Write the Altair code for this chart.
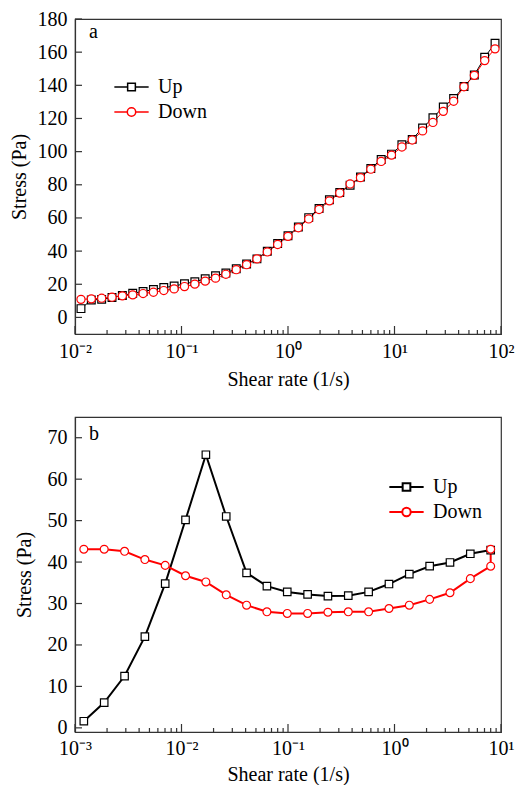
import altair as alt
import pandas as pd

# ---------------- Panel a ----------------
A_RATE = [0.01138, 0.01423, 0.01780, 0.02226, 0.02785, 0.03483, 0.04357, 0.05450, 0.06817, 0.08527,
          0.1067, 0.1334, 0.1669, 0.2088, 0.2611, 0.3266, 0.4086, 0.5110, 0.6392, 0.7995,
          1.0, 1.251, 1.565, 1.957, 2.448, 3.062, 3.830, 4.791, 5.993, 7.496,
          9.376, 11.73, 14.67, 18.35, 22.95, 28.71, 35.91, 44.92, 56.18, 70.27, 87.90]
A_UP = [5.3, 10.5, 10.9, 12.0, 13.2, 14.6, 15.6, 16.8, 18.0, 18.9,
        20.3, 21.5, 23.3, 25.1, 26.8, 29.4, 32.2, 35.3, 39.9, 44.6,
        49.3, 54.5, 60.2, 65.7, 71.0, 75.4, 79.7, 84.7, 89.8, 95.3,
        98.5, 104.2, 107.4, 114.3, 120.4, 126.9, 132.0, 139.3, 146.2, 156.9, 165.4]
A_DOWN = [10.9, 11.2, 11.6, 12.2, 13.0, 13.6, 14.4, 15.2, 16.2, 17.2,
          18.6, 20.1, 21.9, 23.7, 26.0, 28.8, 31.8, 35.3, 39.5, 44.0,
          48.9, 54.1, 59.4, 65.1, 70.3, 75.0, 80.5, 84.3, 89.4, 94.1,
          97.9, 102.8, 107.0, 112.5, 117.6, 124.3, 130.4, 139.1, 146.0, 154.9, 162.0]
A_YTICKS = [0, 20, 40, 60, 80, 100, 120, 140, 160, 180]
A_XMAJOR = [0.01, 0.1, 1, 10, 100]

# ---------------- Panel b ----------------
B_UP_RATE = [0.00121, 0.00188, 0.00292, 0.00453, 0.00703, 0.01091, 0.01694, 0.02630, 0.04083, 0.06339,
             0.09840, 0.1528, 0.2371, 0.3681, 0.5715, 0.8872, 1.377, 2.138, 3.319, 5.152, 8.0]
B_UP = [1.6, 6.1, 12.5, 22.0, 34.8, 50.2, 65.9, 51.0, 37.4, 34.2,
        32.8, 32.2, 31.8, 31.9, 32.8, 34.7, 37.1, 39.0, 39.9, 42.0, 42.9]
# down sweep, in measurement order (high rate -> low rate)
B_DOWN_RATE = [8.0, 8.0, 5.152, 3.319, 2.138, 1.377, 0.8872, 0.5715, 0.3681, 0.2371, 0.1528,
               0.09840, 0.06339, 0.04083, 0.02630, 0.01694, 0.01091, 0.00703, 0.00453, 0.00292,
               0.00188, 0.00121]
B_DOWN = [43.1, 39.0, 36.0, 32.6, 31.0, 29.6, 28.8, 28.0, 28.0, 27.9, 27.6,
          27.6, 28.0, 29.6, 32.1, 35.2, 36.7, 39.2, 40.6, 42.6,
          43.1, 43.1]
B_YTICKS = [0, 10, 20, 30, 40, 50, 60, 70]
B_XMAJOR = [0.001, 0.01, 0.1, 1, 10]

SERIES = ["Up", "Down"]
COLORS = ["#000000", "#ff0000"]
FONT = "Liberation Serif"
FRAME = "#333333"

def minor_ticks(majors):
    out = []
    for m in majors[:-1]:
        for k in range(2, 10):
            out.append(round(m * k, 6))
    return out

def frame_df(rate_up, up, rate_down, down):
    rows = []
    for i, (x, y) in enumerate(zip(rate_up, up)):
        rows.append({"rate": x, "stress": y, "series": "Up", "ord": i})
    for i, (x, y) in enumerate(zip(rate_down, down)):
        rows.append({"rate": x, "stress": y, "series": "Down", "ord": i})
    return pd.DataFrame(rows)

LABEL_EXPR = ("'10' + (log(datum.value)/LN10 < -0.5 ? '\u207b' : '') + "
              "substring('\u2070\u00b9\u00b2\u00b3\u2074', abs(round(log(datum.value)/LN10)), "
              "abs(round(log(datum.value)/LN10)) + 1)")

UP_PATH = "M-2.45,0H-0.55M0.55,0H2.45M-0.55,-0.55H0.55V0.55H-0.55Z"
DOWN_PATH = ("M-2.45,0H-0.6M0.6,0H2.45M-0.6,0A0.6,0.6 0 1,0 0.6,0A0.6,0.6 0 1,0 -0.6,0Z")
SYMBOL_EXPR = "datum.value == 'Up' ? '" + UP_PATH + "' : '" + DOWN_PATH + "'"


def panel(df, xdom, xmajor, ydom, yticks, W, H, letter, lw, legx, legy, lsw,
          ytp, xlp, xtp, msize, letter_y):
    xs = alt.Scale(type="log", domain=xdom, nice=False)
    ys = alt.Scale(domain=ydom, nice=False, zero=False)
    cscale = alt.Scale(domain=SERIES, range=COLORS)
    color = alt.Color(
        "series:N",
        scale=cscale,
        legend=alt.Legend(
            title=None, orient="none", legendX=legx, legendY=legy, padding=0,
            labelFont=FONT, labelFontSize=20, labelColor="black",
            symbolSize=196, symbolStrokeWidth=lsw, labelOffset=16.5, rowPadding=5,
            symbolFillColor="white",
            symbolType=alt.ExprRef(expr=SYMBOL_EXPR),
        ),
    )
    base = alt.Chart(df)
    xax = alt.Axis(values=xmajor, labelExpr=LABEL_EXPR, ticks=False, tickSize=0,
                   grid=False, title="Shear rate (1/s)", labelPadding=xlp,
                   titlePadding=xtp, labelFlush=False,
                   labelFont=FONT, titleFont=FONT, labelFontSize=20, titleFontSize=20,
                   labelColor="black", titleColor="black", titleFontWeight="normal",
                   domainColor=FRAME, domainWidth=1.2)
    yax = alt.Axis(values=yticks, ticks=False, tickSize=0, grid=False,
                   title="Stress (Pa)", labelPadding=8, titlePadding=ytp,
                   labelFont=FONT, titleFont=FONT, labelFontSize=20, titleFontSize=20,
                   labelColor="black", titleColor="black", titleFontWeight="normal",
                   domainColor=FRAME, domainWidth=1.2)
    lines = base.mark_line(strokeWidth=lw).encode(
        x=alt.X("rate:Q", scale=xs, axis=xax),
        y=alt.Y("stress:Q", scale=ys, axis=yax),
        color=color,
        order="ord:Q",
        detail="series:N",
    )
    pts_up = base.transform_filter(alt.datum.series == "Up").mark_point(
        filled=False, fill="white", shape="square", size=msize, strokeWidth=1.2, opacity=1,
        color=COLORS[0]).encode(
        x=alt.X("rate:Q", scale=xs, axis=xax),
        y=alt.Y("stress:Q", scale=ys, axis=yax),
    )
    pts_down = base.transform_filter(alt.datum.series == "Down").mark_point(
        filled=False, fill="white", shape="circle", size=msize + 6, strokeWidth=1.2, opacity=1,
        color=COLORS[1]).encode(
        x=alt.X("rate:Q", scale=xs, axis=xax),
        y=alt.Y("stress:Q", scale=ys, axis=yax),
    )
    ytick = alt.Chart(pd.DataFrame({"stress": yticks})).mark_rule(color=FRAME, strokeWidth=1.2).encode(
        y=alt.Y("stress:Q", scale=ys, axis=yax), x=alt.value(0), x2=alt.value(7))
    xmaj = alt.Chart(pd.DataFrame({"rate": xmajor})).mark_rule(color=FRAME, strokeWidth=1.2).encode(
        x=alt.X("rate:Q", scale=xs, axis=xax), y=alt.value(H), y2=alt.value(H - 8))
    xmin = alt.Chart(pd.DataFrame({"rate": minor_ticks(xmajor)})).mark_rule(color=FRAME, strokeWidth=1.2).encode(
        x=alt.X("rate:Q", scale=xs, axis=xax), y=alt.value(H), y2=alt.value(H - 4))
    lab = alt.Chart(pd.DataFrame({"t": [letter]})).mark_text(
        font=FONT, fontSize=20, align="left", baseline="alphabetic", color="black").encode(
        text="t:N", x=alt.value(14), y=alt.value(letter_y))
    return alt.layer(ytick, xmaj, xmin, lines, pts_up, pts_down, lab).properties(width=W, height=H)


dfa = frame_df(A_RATE, A_UP, A_RATE, A_DOWN)
dfb = frame_df(B_UP_RATE, B_UP, B_DOWN_RATE, B_DOWN)

top = panel(dfa, [0.01, 100], A_XMAJOR, [-10, 180], A_YTICKS, 426, 315, "a", 1.0,
            46.5, 58, 1.5, 8, 7, 8, 60, 19)
bottom = panel(dfb, [0.001, 10], B_XMAJOR, [-1, 75], B_YTICKS, 426, 315, "b", 2.0,
               321.5, 60, 2.0, 13, 6, 6, 56, 23)

chart = alt.vconcat(top, bottom, spacing=26).resolve_scale(
    color="independent", x="independent", y="independent"
).properties(
    padding={"left": 0, "top": 0, "right": 0, "bottom": 0}
).configure_axis(
    labelFont=FONT, titleFont=FONT, labelFontSize=20, titleFontSize=20,
    labelColor="black", titleColor="black", titleFontWeight="normal",
    domainColor=FRAME, domainWidth=1.2,
).configure_view(
    stroke=FRAME, strokeWidth=1.2
)

chart.save("out.html", embed_options={"renderer": "svg", "actions": False})
